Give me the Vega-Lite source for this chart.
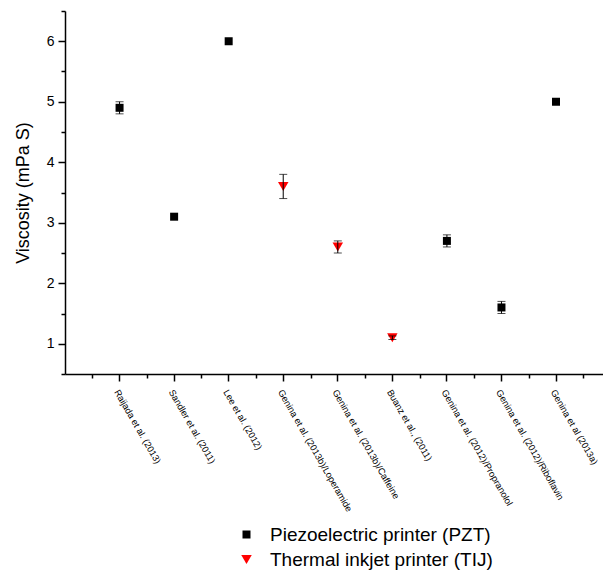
{
  "$schema": "https://vega.github.io/schema/vega-lite/v6.json",
  "autosize": {"type": "none"},
  "width": 538,
  "height": 363,
  "padding": {"left": 65, "top": 11, "right": 0, "bottom": 201},
  "background": "white",
  "config": {
    "view": {"stroke": null},
    "font": "Liberation Sans",
    "axis": {"grid": false, "domainColor": "black", "tickColor": "black", "labelColor": "black", "titleColor": "black", "domainWidth": 1.5, "tickWidth": 1.5, "labelFont": "Liberation Sans", "titleFont": "Liberation Sans"}
  },
  "data": {
    "values": [
      {"study": "Raijada et al. (2013)", "type": "Piezoelectric printer (PZT)", "viscosity": 4.9, "err": 0.1},
      {"study": "Sandler et al. (2011)", "type": "Piezoelectric printer (PZT)", "viscosity": 3.1, "err": 0},
      {"study": "Lee et al. (2012)", "type": "Piezoelectric printer (PZT)", "viscosity": 6.0, "err": 0},
      {"study": "Genina et al. (2013b)/Loperamide", "type": "Thermal inkjet printer (TIJ)", "viscosity": 3.6, "err": 0.2},
      {"study": "Genina et al. (2013b)/Caffeine", "type": "Thermal inkjet printer (TIJ)", "viscosity": 2.6, "err": 0.1},
      {"study": "Buanz et al., (2011)", "type": "Thermal inkjet printer (TIJ)", "viscosity": 1.1, "err": 0.03},
      {"study": "Genina et al. (2012)/Propranolol", "type": "Piezoelectric printer (PZT)", "viscosity": 2.7, "err": 0.1},
      {"study": "Genina et al. (2012)/Riboflavin", "type": "Piezoelectric printer (PZT)", "viscosity": 1.6, "err": 0.1},
      {"study": "Genina et al (2013a)", "type": "Piezoelectric printer (PZT)", "viscosity": 5.0, "err": 0}
    ]
  },
  "resolve": {"axis": {"x": "independent", "y": "independent"}},
  "layer": [
    {
      "mark": {"type": "point", "filled": true, "opacity": 1, "strokeWidth": 0},
      "encoding": {
        "x": {
          "field": "study", "type": "nominal", "sort": null,
          "scale": {"type": "band", "paddingInner": 0, "paddingOuter": 0.4305, "align": 0.5807},
          "axis": {"title": null, "orient": "bottom", "labelAngle": 60, "labelAlign": "left", "labelBaseline": "middle", "labelFontSize": 9.3, "labelPadding": 9, "labelOffset": -3, "tickSize": 7, "labelLimit": 400, "labelOverlap": false}
        },
        "y": {
          "field": "viscosity", "type": "quantitative",
          "scale": {"domain": [0.5, 6.5], "nice": false, "zero": false},
          "axis": {
            "title": "Viscosity (mPa S)", "titleFontSize": 18, "titleFontWeight": "normal", "titlePadding": 14,
            "orient": "left",
            "values": [1, 2, 3, 4, 5, 6],
            "tickSize": 7,
            "labelFontSize": 14, "labelPadding": 4, "labelOverlap": false
          }
        },
        "color": {
          "field": "type", "type": "nominal",
          "scale": {"domain": ["Piezoelectric printer (PZT)", "Thermal inkjet printer (TIJ)"], "range": ["black", "#ff0000"]},
          "legend": {"title": null, "orient": "none", "legendX": 172, "legendY": 514, "padding": 0, "labelFontSize": 19, "labelFont": "Liberation Sans", "labelColor": "black", "labelOffset": 14, "rowPadding": 5, "labelLimit": 400}
        },
        "shape": {
          "field": "type", "type": "nominal",
          "scale": {"domain": ["Piezoelectric printer (PZT)", "Thermal inkjet printer (TIJ)"], "range": ["square", "triangle-down"]}
        },
        "size": {
          "field": "type", "type": "nominal",
          "scale": {"domain": ["Piezoelectric printer (PZT)", "Thermal inkjet printer (TIJ)"], "range": [64, 110]}
        }
      }
    },
    {
      "transform": [{"filter": "datum.err > 0"}],
      "mark": {"type": "errorbar", "ticks": {"size": 8, "color": "black"}, "rule": {"color": "black", "strokeWidth": 1}, "color": "black"},
      "encoding": {
        "x": {"field": "study", "type": "nominal", "sort": null, "axis": {"title": null, "orient": "bottom", "labels": false, "domain": false, "tickBand": "extent", "tickSize": 4}},
        "y": {"field": "viscosity", "type": "quantitative", "axis": {"title": null, "orient": "left", "labels": false, "domain": false, "values": [0.5, 1.5, 2.5, 3.5, 4.5, 5.5, 6.5], "tickSize": 4}},
        "yError": {"field": "err"}
      }
    }
  ]
}
